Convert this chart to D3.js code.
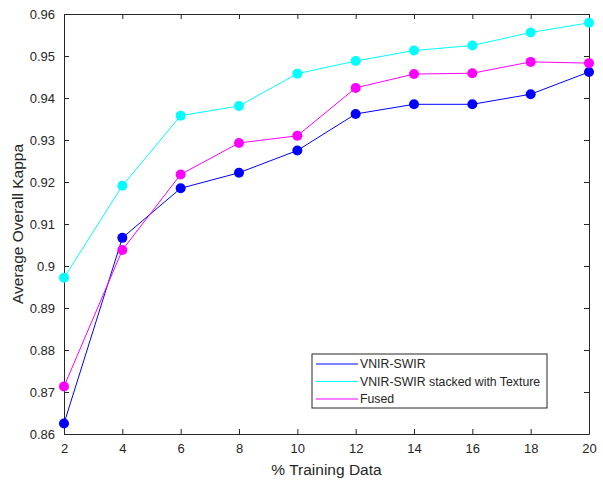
<!DOCTYPE html>
<html>
<head>
<meta charset="utf-8">
<script src="https://cdn.jsdelivr.net/npm/d3@7"></script>
<style>
    body { margin: 0; background: #fff; }
    svg text { font-family: "Liberation Sans", Arial, sans-serif; fill: #262626; }
</style>
</head>
<body>
<div id="chart"></div>
<script>
const trainingPct = [2, 4, 6, 8, 10, 12, 14, 16, 18, 20];
const vnirSwir = [0.8625, 0.9067, 0.9185, 0.9222, 0.9275, 0.9362, 0.9385, 0.9385, 0.9409, 0.9462];
const vnirSwirTexture = [0.8972, 0.9191, 0.9358, 0.9381, 0.9458, 0.9488, 0.9513, 0.9525, 0.9556, 0.9579];
const fused = [0.8713, 0.9038, 0.9218, 0.9293, 0.9310, 0.9424, 0.9457, 0.9459, 0.9486, 0.9483];
const seriesNames = ["VNIR-SWIR", "VNIR-SWIR stacked with Texture", "Fused"];
const seriesColors = ["#0000ff", "#00ffff", "#ff00ff"];
const xTicks = [2, 4, 6, 8, 10, 12, 14, 16, 18, 20];
const yTicks = [0.86, 0.87, 0.88, 0.89, 0.9, 0.91, 0.92, 0.93, 0.94, 0.95, 0.96];

let width = 603;
let height = 481;
let margin = {top: 14, right: 14, bottom: 47, left: 64};
let axisColor = "#262626";

let allSeries = [vnirSwir, vnirSwirTexture, fused].map((vals, i) => ({
    name: seriesNames[i],
    color: seriesColors[i],
    points: vals.map((v, j) => ({x: trainingPct[j], y: v}))
}));

let x = d3.scaleLinear()
    .domain([2, 20])
    .range([margin.left, width - margin.right]);

let y = d3.scaleLinear()
    .domain([0.86, 0.96])
    .range([height - margin.bottom, margin.top]);

let svg = d3.select("#chart")
    .append("svg")
    .attr("width", width)
    .attr("height", height);

// box + inward ticks, matlab style
let fmt = d => String(+d.toFixed(2));

let styleAxis = g => {
    g.select(".domain").attr("stroke", axisColor);
    g.selectAll(".tick line").attr("stroke", axisColor);
    g.selectAll(".tick text")
        .style("font-size", "13px")
        .style("fill", axisColor);
};

svg.append("g")
    .attr("transform", `translate(0,${height - margin.bottom})`)
    .call(d3.axisBottom(x).tickValues(xTicks).tickSize(-5).tickSizeOuter(0).tickPadding(10))
    .call(styleAxis);

svg.append("g")
    .attr("transform", `translate(0,${margin.top})`)
    .call(d3.axisTop(x).tickValues(xTicks).tickSize(-5).tickSizeOuter(0).tickFormat(""))
    .call(styleAxis);

svg.append("g")
    .attr("transform", `translate(${margin.left},0)`)
    .call(d3.axisLeft(y).tickValues(yTicks).tickSize(-5).tickSizeOuter(0).tickPadding(9).tickFormat(fmt))
    .call(styleAxis);

svg.append("g")
    .attr("transform", `translate(${width - margin.right},0)`)
    .call(d3.axisRight(y).tickValues(yTicks).tickSize(-5).tickSizeOuter(0).tickFormat(""))
    .call(styleAxis);

// axis titles
svg.append("text")
    .attr("x", (margin.left + width - margin.right) / 2)
    .attr("y", 475)
    .attr("text-anchor", "middle")
    .style("font-size", "15.5px")
    .text("% Training Data");

svg.append("text")
    .attr("transform", `translate(23,${(margin.top + height - margin.bottom) / 2}) rotate(-90)`)
    .attr("text-anchor", "middle")
    .style("font-size", "15.5px")
    .text("Average Overall Kappa");

let line = d3.line()
    .x(d => x(d.x))
    .y(d => y(d.y));

let seriesG = svg.append("g")
    .selectAll("g")
    .data(allSeries)
    .enter().append("g");

seriesG.append("path")
    .attr("d", d => line(d.points))
    .attr("fill", "none")
    .attr("stroke", d => d.color)
    .attr("stroke-width", 1);

seriesG.selectAll("circle")
    .data(d => d.points.map(p => ({...p, color: d.color})))
    .enter().append("circle")
    .attr("cx", d => x(d.x))
    .attr("cy", d => y(d.y))
    .attr("r", 5)
    .attr("fill", d => d.color);

// legend
let legend = svg.append("g")
    .attr("transform", "translate(312,354)");

legend.append("rect")
    .attr("width", 235)
    .attr("height", 54)
    .attr("fill", "#fff")
    .attr("stroke", axisColor)
    .attr("stroke-width", 1);

let legendRow = legend.selectAll(".row")
    .data(allSeries)
    .enter().append("g")
    .attr("class", "row")
    .attr("transform", (d, i) => `translate(0,${10 + i * 17.5})`);

legendRow.append("line")
    .attr("x1", 4)
    .attr("x2", 46)
    .attr("stroke", d => d.color)
    .attr("stroke-width", 1);

legendRow.append("text")
    .attr("x", 48)
    .attr("dy", "0.35em")
    .style("font-size", "12.3px")
    .text(d => d.name);
</script>
</body>
</html>
